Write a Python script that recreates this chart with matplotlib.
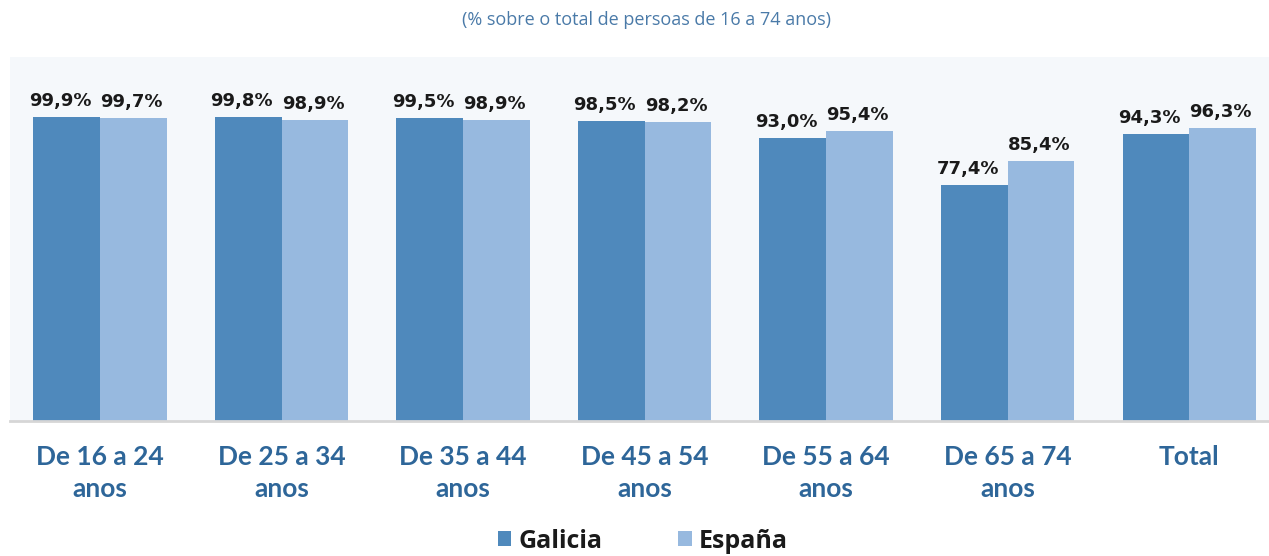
import matplotlib
matplotlib.use("Agg")
import matplotlib.pyplot as plt
import numpy as np

categories = ["De 16 a 24\nanos", "De 25 a 34\nanos", "De 35 a 44\nanos",
              "De 45 a 54\nanos", "De 55 a 64\nanos", "De 65 a 74\nanos", "Total"]
galicia = [99.9, 99.8, 99.5, 98.5, 93.0, 77.4, 94.3]
espana = [99.7, 98.9, 98.9, 98.2, 95.4, 85.4, 96.3]
series_names = ["Galicia", "España"]
subtitle = "(% sobre o total de persoas de 16 a 74 anos)"

c_gal = "#4f89bc"
c_esp = "#97b9df"
bg = "#f5f8fb"
tick_color = "#2e6699"

W, H = 1269, 556
fig = plt.figure(figsize=(W / 100, H / 100), dpi=100)
ax = fig.add_axes([10 / W, 1 - 421 / H, (W - 10) / W, (421 - 57) / H])
ax.set_facecolor(bg)

x = np.arange(len(categories))
bw = 0.367
b1 = ax.bar(x - bw / 2, galicia, bw, color=c_gal, label=series_names[0], zorder=2)
b2 = ax.bar(x + bw / 2, espana, bw, color=c_esp, label=series_names[1], zorder=2)

ax.set_xlim(-0.496, 6.44)
ax.set_ylim(0, 119.6)

for xs, vals, dx in ((x - bw / 2, galicia, -0.035), (x + bw / 2, espana, -0.01)):
    for xi, v in zip(xs, vals):
        ax.annotate(f"{v:.1f}%".replace(".", ","), (xi + dx, v), xytext=(0, 5),
                    textcoords="offset points", ha="center", va="bottom",
                    fontsize=13, fontweight="bold", family="DejaVu Sans", color="#1a1a1a")

ax.set_xticks(x)
ax.set_xticklabels(categories, fontsize=19, fontweight="bold", family="Lato",
                   color=tick_color, linespacing=1.4)
ax.tick_params(axis="x", length=0, pad=17)
ax.set_yticks([])
for s in ["top", "right", "left"]:
    ax.spines[s].set_visible(False)
ax.spines["bottom"].set_color("#d6d6d6")
ax.spines["bottom"].set_linewidth(2)

fig.text(646 / W, 1 - 20 / H, subtitle, ha="center", va="center",
         fontsize=13, family="Open Sans", color="#4a7aa8")

leg = fig.legend(handles=[b1, b2], labels=series_names, loc="center",
                 bbox_to_anchor=(643 / W, 1 - 541 / H), ncol=2, frameon=False,
                 prop={"family": "Open Sans", "weight": "bold", "size": 18},
                 handlelength=0.55, handleheight=0.55, handletextpad=0.3,
                 columnspacing=3.0)
for t in leg.get_texts():
    t.set_color("#1a1a1a")

fig.savefig("out.png", dpi=100)
